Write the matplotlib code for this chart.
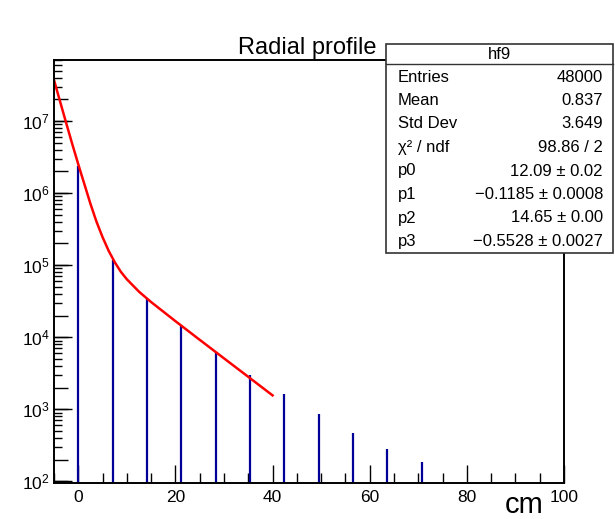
import numpy as np
import matplotlib
matplotlib.use('Agg')
import matplotlib.pyplot as plt
from matplotlib.ticker import LogLocator, NullFormatter, MultipleLocator

plt.rcParams['font.family'] = ['Liberation Sans', 'DejaVu Sans']
plt.rcParams['mathtext.fontset'] = 'custom'
plt.rcParams['mathtext.rm'] = 'Liberation Sans'
plt.rcParams['mathtext.it'] = 'Liberation Sans:italic'

# histogram bins (radius in cm) and counts
radius = [0.0, 7.07, 14.14, 21.21, 28.28, 35.36, 42.43, 49.50, 56.57, 63.64, 70.71]
counts = [2.4e6, 1.17e5, 3.4e4, 1.42e4, 6.25e3, 3.03e3, 1.65e3, 855, 465, 280, 185]

# fit curve
fit_x = [-5, -3.75, -2.5, -1.25, 0, 1.25, 2.5, 3.75, 5, 6.25, 7.5, 8.75, 10, 12.5, 15, 20, 25, 30, 35, 40]
fit_y = [3.7e7, 1.86e7, 9.4e6, 4.8e6, 2.5e6, 1.33e6, 7.1e5, 4.0e5, 2.44e5, 1.58e5, 1.10e5, 8.1e4,
         6.36e4, 4.28e4, 3.07e4, 1.67e4, 9.2e3, 5.09e3, 2.82e3, 1.56e3]

# stats box
stat_names = ['Entries', 'Mean', 'Std Dev', 'χ² / ndf', 'p0', 'p1', 'p2', 'p3']
stat_vals = ['48000', '0.837', '3.649', '98.86 / 2', '12.09 ± 0.02', '\u22120.1185 ± 0.0008',
             '14.65 ± 0.00', '\u22120.5528 ± 0.0027']

W, H = 615, 519
fig = plt.figure(figsize=(W / 100, H / 100), dpi=100)
ax = fig.add_axes([54 / W, 1 - 483 / H, (564 - 54) / W, (483 - 60) / H])

ax.vlines(radius, 1, counts, color='#000099', lw=1.6)
ax.plot(fit_x, fit_y, color='#ff0000', lw=1.8)

ax.set_yscale('log')
ax.set_xlim(-5, 100)
ax.set_ylim(95, 7.0e7)

ax.xaxis.set_major_locator(MultipleLocator(20))
ax.xaxis.set_minor_locator(MultipleLocator(5))
ax.yaxis.set_major_locator(LogLocator(base=10, numticks=20))
ax.yaxis.set_minor_locator(LogLocator(base=10, subs=[3, 4, 5, 6, 7, 8, 9], numticks=20))
ax.yaxis.set_minor_formatter(NullFormatter())
ax.tick_params(which='both', direction='in', top=False, right=False, width=1.0, colors='black')
ax.tick_params(which='major', length=13, labelsize=12.5)
ax.tick_params(axis='x', which='minor', length=7)
ax.tick_params(axis='y', which='minor', length=6)
ax.tick_params(axis='x', which='major', pad=5)
ax.tick_params(axis='y', which='major', pad=3)
for s in ax.spines.values():
    s.set_linewidth(1.4)

# medium ticks at 2 x 10^n
sec = ax.secondary_yaxis('left')
sec.yaxis.set_major_locator(LogLocator(base=10, subs=[2], numticks=20))
sec.yaxis.set_minor_locator(LogLocator(base=10, subs=[], numticks=20))
sec.tick_params(which='both', direction='in', length=10, width=1.0,
                labelleft=False, labelright=False)
sec.spines['left'].set_visible(False)

fig.text(307 / W, 1 - 48 / H, 'Radial profile', ha='center', va='center', fontsize=17)
fig.text(524 / W, 1 - 505 / H, 'cm', ha='center', va='center', fontsize=21)

# stats box
bx0, bx1, by0, by1 = 386, 613, 44, 253
fig.patches.append(plt.Rectangle((bx0 / W, 1 - by1 / H), (bx1 - bx0) / W, (by1 - by0) / H,
                                 transform=fig.transFigure, facecolor='white',
                                 edgecolor='#333333', lw=1.2, zorder=5))
fig.lines.append(plt.Line2D([bx0 / W, bx1 / W], [1 - 64 / H, 1 - 64 / H],
                            transform=fig.transFigure, color='#333333', lw=1.0, zorder=6))
fig.text((bx0 + bx1) / 2 / W, 1 - 54 / H, 'hf9', ha='center', va='center', fontsize=12, zorder=7)
for i, (n, v) in enumerate(zip(stat_names, stat_vals)):
    yy = 1 - (77 + i * 23.5) / H
    fig.text(398 / W, yy, n, ha='left', va='center', fontsize=12, zorder=7)
    fig.text(603 / W, yy, v, ha='right', va='center', fontsize=12, zorder=7)

fig.savefig('out.png', dpi=100)
